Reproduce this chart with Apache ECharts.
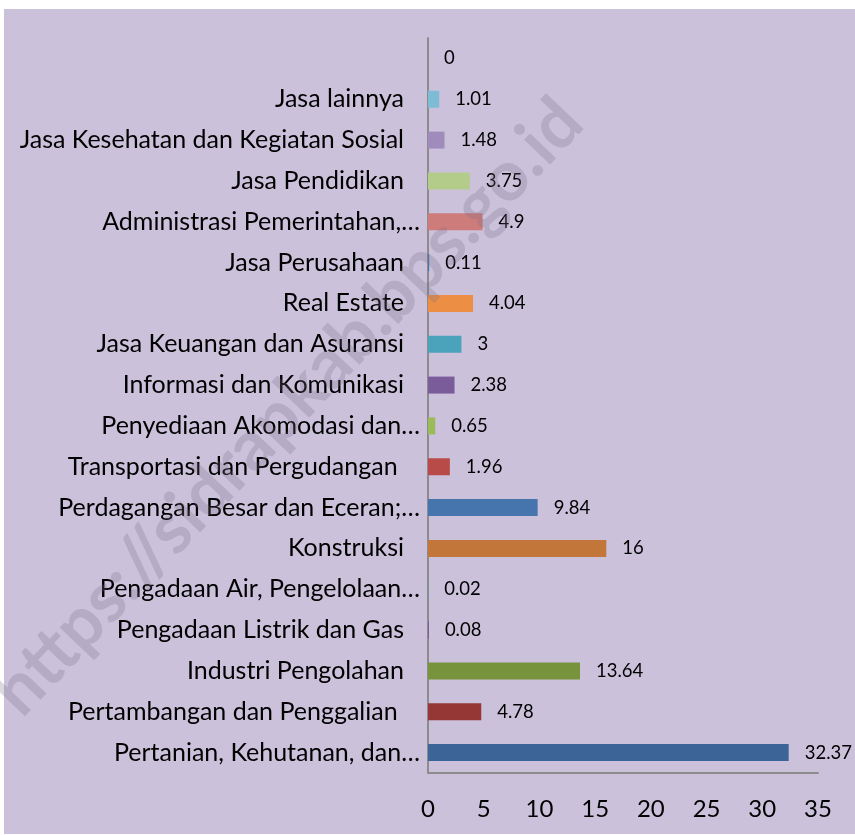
<!DOCTYPE html>
<html>
<head>
<meta charset="utf-8">
<script src="https://cdn.jsdelivr.net/npm/echarts@6/dist/echarts.min.js"></script>
<style>
  html, body { margin: 0; padding: 0; background: #fff; }
  #chart { width: 855px; height: 835px; }
</style>
</head>
<body>
<div id="chart"></div>
<script>
// bottom to top, as drawn on the category axis
const categories = [
  'Pertanian, Kehutanan, dan…',
  'Pertambangan dan Penggalian ',
  'Industri Pengolahan',
  'Pengadaan Listrik dan Gas',
  'Pengadaan Air, Pengelolaan…',
  'Konstruksi',
  'Perdagangan Besar dan Eceran;…',
  'Transportasi dan Pergudangan ',
  'Penyediaan Akomodasi dan…',
  'Informasi dan Komunikasi',
  'Jasa Keuangan dan Asuransi',
  'Real Estate',
  'Jasa Perusahaan',
  'Administrasi Pemerintahan,…',
  'Jasa Pendidikan',
  'Jasa Kesehatan dan Kegiatan Sosial',
  'Jasa lainnya',
  ''
]
const values = [32.37, 4.78, 13.64, 0.08, 0.02, 16, 9.84, 1.96, 0.65, 2.38, 3, 4.04, 0.11, 4.9, 3.75, 1.48, 1.01, 0]
const xTicks = [0, 5, 10, 15, 20, 25, 30, 35]

let colorList = [
  '#3c6496', '#953735', '#77933c', '#7a5c9a', '#4aa3bb', '#c3763a',
  '#4674ac', '#b84a47', '#9bbb59', '#7a5c9a', '#4aa3bb', '#ec8f45',
  '#4674ac', '#cd7b7b', '#b3cc89', '#a08cbc', '#7dbcd4', '#7dbcd4'
]

const font = 'Lato, "Open Sans", sans-serif'
const chart = echarts.init(document.getElementById('chart'))

let option = {
  backgroundColor: '#ffffff',
  animation: false,
  graphic: [
    {
      type: 'rect',
      z: -10,
      shape: { x: 4, y: 9, width: 851, height: 825 },
      style: { fill: '#cbc1db' }
    },
    {
      type: 'text',
      z: 100,
      x: 288,
      y: 407,
      rotation: 0.81,
      style: {
        text: 'https://sidrapkab.bps.go.id',
        font: 'bold 70px Lato, "Open Sans", sans-serif',
        fill: 'rgba(120, 108, 132, 0.26)',
        align: 'center',
        verticalAlign: 'middle'
      }
    }
  ],
  grid: {
    left: 428,
    right: 37,
    top: 38,
    bottom: 62
  },
  xAxis: {
    type: 'value',
    min: xTicks[0],
    max: xTicks[xTicks.length - 1],
    interval: 5,
    splitLine: { show: false },
    axisTick: { show: false },
    axisLine: { show: true, lineStyle: { color: '#8c8c8c', width: 2 } },
    axisLabel: {
      margin: 24,
      fontSize: 24,
      color: '#000',
      fontFamily: font
    }
  },
  yAxis: {
    type: 'category',
    data: categories,
    axisTick: { show: false },
    axisLine: { show: true, lineStyle: { color: '#8c8c8c', width: 2 } },
    axisLabel: {
      margin: 8,
      fontSize: 25,
      color: '#000',
      fontFamily: font,
      // labels cut with an ellipsis sit a bit closer to the axis
      formatter: function(v) {
        return v.slice(-1) === '…' ? '{e|' + v + '}' : '{n|' + v + '}'
      },
      rich: {
        n: { fontSize: 25, fontFamily: font, color: '#000', padding: [0, 16, 0, 0] },
        e: { fontSize: 25, fontFamily: font, color: '#000' }
      }
    }
  },
  series: [
    {
      type: 'bar',
      data: values,
      barWidth: 17,
      label: {
        show: true,
        position: 'right',
        distance: 16,
        fontSize: 18.5,
        color: '#000',
        fontFamily: font
      },
      itemStyle: {
        color: function(params) {
          return colorList[params.dataIndex % colorList.length]
        }
      }
    }
  ]
}

chart.setOption(option)
</script>
</body>
</html>
